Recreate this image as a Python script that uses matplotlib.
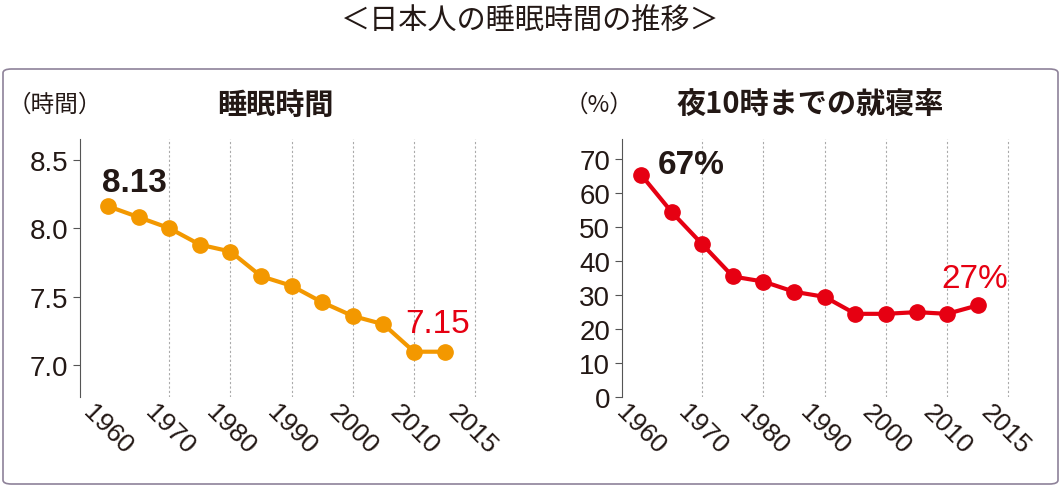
import matplotlib
matplotlib.use("Agg")
import matplotlib.pyplot as plt
from matplotlib.patches import FancyBboxPatch

plt.rcParams['font.family'] = 'Noto Sans CJK JP'

years = [1960, 1965, 1970, 1975, 1980, 1985, 1990, 1995, 2000, 2005, 2010, 2015]
sleep_hours = [8.16, 8.08, 8.00, 7.88, 7.83, 7.65, 7.58, 7.46, 7.36, 7.30, 7.10, 7.10]
bed_by_10 = [65.5, 54.5, 45.0, 35.5, 34.0, 31.0, 29.5, 24.5, 24.5, 25.0, 24.5, 27.0]
tick_labels = ['1960', '1970', '1980', '1990', '2000', '2010', '2015']
tick_pos = [1960, 1970, 1980, 1990, 2000, 2010, 2019.5]
grid_years = [1970, 1980, 1990, 2000, 2010, 2020]

W, H = 1061, 489
fig = plt.figure(figsize=(W/100, H/100), dpi=100)
fig.patches.append(FancyBboxPatch((3/W, 4/H), 1055/W, 415/H, boxstyle="round,pad=0,rounding_size=0.008",
                                  transform=fig.transFigure, fill=False, ec='#8e8299', lw=1.2))
fig.text(0.5, 0.955, '＜日本人の睡眠時間の推移＞', ha='center', va='center', fontsize=21, color='#231815')

dark = '#231815'
num = 'Liberation Sans'

def setup(ax, xlim, ylim, yticks, ylabels):
    ax.set_xlim(*xlim)
    ax.set_ylim(*ylim)
    for s in ['top', 'right', 'bottom']:
        ax.spines[s].set_visible(False)
    ax.spines['left'].set_color('#555555')
    for g in grid_years:
        ax.axvline(g, color='#aaaaaa', lw=0.8, ls=(0, (2, 2)), zorder=0)
    ax.set_yticks(yticks)
    ax.set_yticklabels(ylabels, fontsize=20, color=dark, fontfamily=num)
    ax.tick_params(axis='y', length=5, color='#555555')
    ax.set_xticks(tick_pos)
    ax.set_xticklabels(tick_labels, rotation=-45, ha='center', va='top',
                       fontsize=19, color=dark, fontfamily=num)
    ax.tick_params(axis='x', length=0, pad=2)

ax1 = fig.add_axes([80/W, 1-398/H, 405/W, 258/H])
setup(ax1, (1955.4, 2021.6), (6.77, 8.65), [7.0, 7.5, 8.0, 8.5], ['7.0', '7.5', '8.0', '8.5'])
ax1.plot(years, sleep_hours, color='#F39800', lw=3, marker='o', ms=11, zorder=3)
ax1.text(1959, 8.27, '8.13', fontsize=24, fontweight='bold', color=dark, fontfamily=num)
ax1.text(2008.5, 7.24, '7.15', fontsize=24, color='#E60012', fontfamily=num)
fig.text(8/W, 1-105/H, '（時間）', fontsize=17, color=dark, va='center')
fig.text(275/W, 1-105/H, '睡眠時間', fontsize=21, fontweight='bold', color=dark, va='center', ha='center')

ax2 = fig.add_axes([622/W, 1-398/H, 403/W, 258/H])
setup(ax2, (1956.9, 2022.7), (0, 76), list(range(0, 71, 10)), [str(v) for v in range(0, 71, 10)])
ax2.plot(years, bed_by_10, color='#E60012', lw=3, marker='o', ms=11, zorder=3)
ax2.text(1962.7, 66.0, '67%', fontsize=24, fontweight='bold', color=dark, fontfamily=num)
ax2.text(2009, 32.5, '27%', fontsize=24, color='#E60012', fontfamily=num)
fig.text(565/W, 1-105/H, '（%）', fontsize=17, color=dark, va='center')
fig.text(810/W, 1-105/H, '夜10時までの就寝率', fontsize=21, fontweight='bold', color=dark, va='center', ha='center')

fig.savefig('out.png', dpi=100)
